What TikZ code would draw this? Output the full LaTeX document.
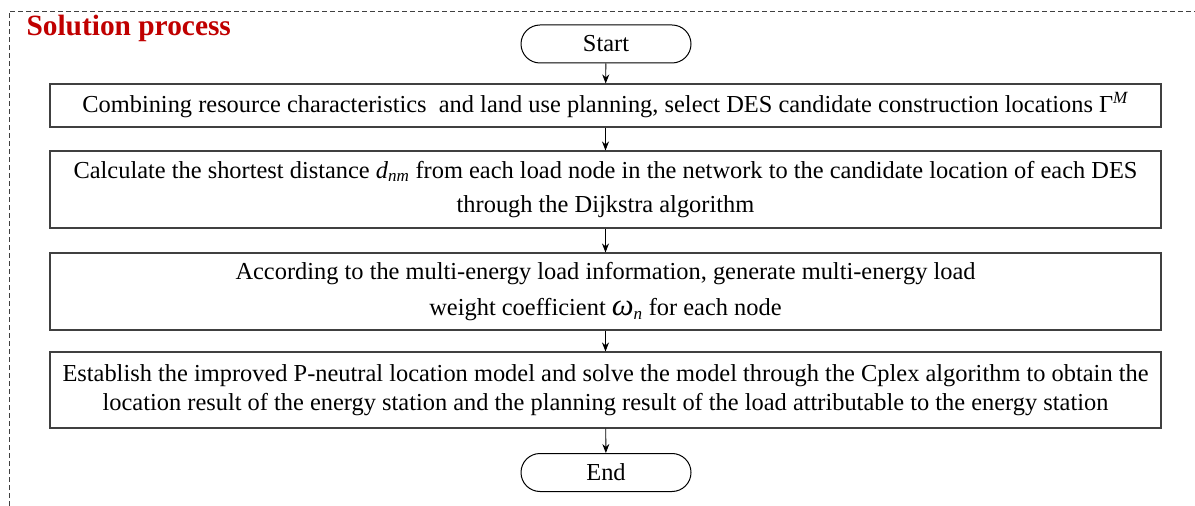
\documentclass[tikz,border=0pt]{standalone}
\usepackage{fontspec}
\setmainfont{Liberation Serif}
\usetikzlibrary{arrows.meta}
\definecolor{titlered}{HTML}{C00000}
\definecolor{edgegray}{HTML}{404040}
\tikzset{
  body/.style={font=\fontsize{24.5}{29}\selectfont},
  proc/.style={draw=edgegray, line width=1.1bp, minimum width=1111bp, inner sep=0pt, align=center, body},
  term/.style={draw=black, line width=1bp, rounded corners=19bp, minimum width=170bp, minimum height=38bp, inner sep=0pt, body},
  flow/.style={-{Stealth[length=9bp,width=7bp]}, line width=0.9bp, black},
  frame/.style={dashed, dash pattern=on 5bp off 3bp, line width=0.9bp, black!75}
}
\begin{document}
\begin{tikzpicture}[x=1bp,y=-1bp]
\useasboundingbox (0,0) rectangle (1195,506);
\coordinate (fbl) at (9,506);
\coordinate (ftl) at (9,11);
\coordinate (ftr) at (1195,11);
\draw[frame] (fbl) -- (ftl) -- (ftr);
\node[anchor=west, text=titlered, font=\fontsize{29.5}{32}\selectfont\bfseries] (title) at (23,28) {Solution process};

\node[term] (start) at (606,44) {Start};
\node[proc, minimum height=43bp] (b1) at (605.5,105.5) {Combining resource characteristics\ \ and land use planning, select DES candidate construction locations Γ\textsuperscript{\textit{M}}};
\node[proc, minimum height=77bp, font=\fontsize{24.5}{35}\selectfont] (b2) at (605.5,189.5) {Calculate the shortest distance \textit{d}\textsubscript{\textit{nm}}\ from each load node in the network to the candidate location of each DES\\through the Dijkstra algorithm};
\node[proc, minimum height=77bp, font=\fontsize{24.5}{36}\selectfont] (b3) at (605.5,291.5) {According to the multi-energy load information, generate multi-energy load\\weight coefficient {\fontsize{31}{31}\selectfont\textit{ω}}\textsubscript{\textit{n}} for each node};
\node[proc, minimum height=76bp, font=\fontsize{24.5}{29.5}\selectfont] (b4) at (605.5,390) {Establish the improved P-neutral location model and solve the model through the Cplex algorithm to obtain the\\location result of the energy station and the planning result of the load attributable to the energy station};
\node[term] (end) at (606,472.5) {End};

\draw[flow] (start) -- (b1);
\draw[flow] (b1) -- (b2);
\draw[flow] (b2) -- (b3);
\draw[flow] (b3) -- (b4);
\draw[flow] (b4) -- (end);
\end{tikzpicture}
\end{document}
